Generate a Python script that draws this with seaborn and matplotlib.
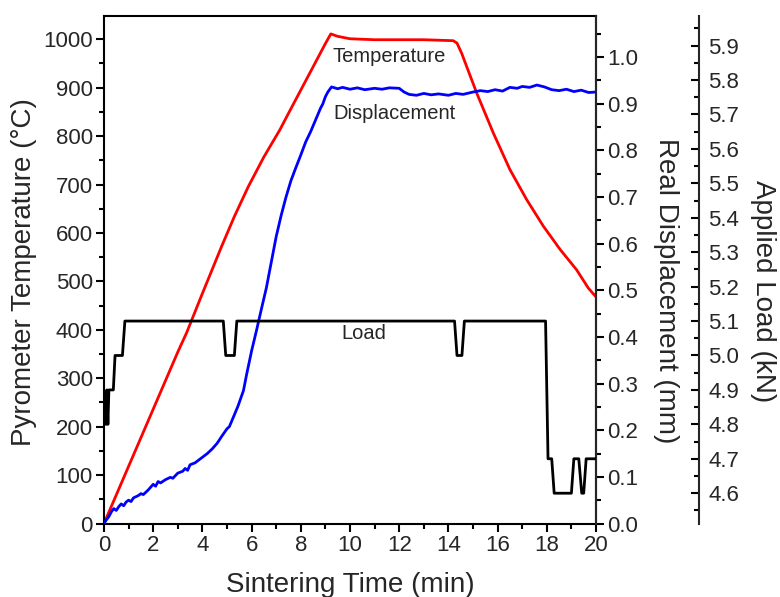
import matplotlib
matplotlib.use("Agg")
import matplotlib.pyplot as plt
from matplotlib.ticker import MultipleLocator, FormatStrFormatter
import seaborn as sns
import pandas as pd

# ---------------- data ----------------
temp_time = [0, 1, 2, 3, 3.36, 4, 4.78, 5.3, 5.87, 6.5, 7.15, 7.5, 8, 8.5, 9, 9.22,
             9.5, 10, 11, 12, 13, 14.2, 14.35, 14.54, 15.15, 15.83, 16.5, 17.18,
             17.86, 18.54, 19.21, 19.69, 20]
temp_c = [0, 118, 236, 354, 394, 475, 572, 634, 696, 757, 813, 847, 895, 943, 991, 1011,
          1006, 1001, 999, 999, 999, 997, 992, 971, 889, 806, 731, 669,
          614, 566, 524, 486, 468]

disp_time = [0, 0.1, 0.2, 0.3, 0.4, 0.5, 0.6, 0.7, 0.8, 0.9, 1.0, 1.1, 1.2, 1.4, 1.5,
             1.6, 1.8, 1.9, 2.0, 2.1, 2.2, 2.3, 2.5, 2.7, 2.8, 3.0, 3.2, 3.3, 3.4, 3.5,
             3.7, 3.9, 4.0, 4.2, 4.4, 4.6, 4.8, 5.0, 5.1, 5.26, 5.45, 5.67, 5.8, 6.0,
             6.2, 6.4, 6.6, 6.8, 7.0, 7.2, 7.4, 7.6, 7.8, 8.0, 8.2, 8.4, 8.6, 8.8, 8.9,
             9.0, 9.1, 9.25, 9.5, 9.7, 10.0, 10.3, 10.6, 11.0, 11.3, 11.6, 12.0, 12.2,
             12.4, 12.7, 13.0, 13.3, 13.6, 14.0, 14.3, 14.6, 15.0, 15.3, 15.6, 15.9,
             16.2, 16.5, 16.8, 17.0, 17.3, 17.6, 17.9, 18.2, 18.5, 18.8, 19.1, 19.4,
             19.7, 20.0]
disp_mm = [0, 0.008, 0.015, 0.025, 0.032, 0.028, 0.036, 0.042, 0.038, 0.046, 0.050,
           0.047, 0.055, 0.060, 0.064, 0.062, 0.072, 0.078, 0.084, 0.080, 0.090,
           0.087, 0.094, 0.099, 0.097, 0.108, 0.112, 0.118, 0.114, 0.126, 0.130,
           0.138, 0.142, 0.150, 0.160, 0.172, 0.188, 0.203, 0.208, 0.228, 0.252,
           0.285, 0.320, 0.370, 0.414, 0.460, 0.505, 0.560, 0.615, 0.660, 0.700,
           0.735, 0.763, 0.790, 0.818, 0.840, 0.865, 0.890, 0.900, 0.915, 0.925,
           0.936, 0.932, 0.935, 0.931, 0.934, 0.930, 0.933, 0.931, 0.934, 0.933,
           0.925, 0.920, 0.918, 0.922, 0.919, 0.921, 0.918, 0.922, 0.920, 0.925,
           0.928, 0.926, 0.930, 0.927, 0.935, 0.933, 0.937, 0.935, 0.940, 0.936,
           0.930, 0.928, 0.931, 0.926, 0.929, 0.924, 0.925]

load_time = [0.0, 0.08, 0.12, 0.16, 0.2, 0.38, 0.45, 0.75, 0.85, 4.85, 4.95, 5.3, 5.4,
             14.25, 14.35, 14.55, 14.65, 17.95, 18.05, 18.2, 18.3, 19.0, 19.1, 19.3,
             19.42, 19.5, 19.6, 20.0]
load_kn = [4.90, 4.80, 4.90, 4.80, 4.90, 4.90, 5.00, 5.00, 5.10, 5.10, 5.00, 5.00, 5.10,
           5.10, 5.00, 5.00, 5.10, 5.10, 4.70, 4.70, 4.60, 4.60, 4.70, 4.70,
           4.60, 4.60, 4.70, 4.70]

series_labels = ["Temperature", "Displacement", "Load"]

# ---------------- style ----------------
sns.set_style("ticks")
plt.rcParams["font.family"] = ["Liberation Sans", "DejaVu Sans"]
plt.rcParams["axes.linewidth"] = 1.5

TICK_FS = 16
LABEL_FS = 20

fig = plt.figure(figsize=(7.8, 5.97), dpi=100)
ax = fig.add_axes([0.1333, 0.1231, 0.6308, 0.8501])
ax2 = ax.twinx()
ax3 = ax.twinx()

df_t = pd.DataFrame({"t": temp_time, "v": temp_c})
df_d = pd.DataFrame({"t": disp_time, "v": disp_mm})
df_l = pd.DataFrame({"t": load_time, "v": load_kn})

sns.lineplot(data=df_t, x="t", y="v", ax=ax, color="#ff0000", linewidth=2.0,
             estimator=None, sort=False)
sns.lineplot(data=df_d, x="t", y="v", ax=ax2, color="#0000ff", linewidth=2.0,
             estimator=None, sort=False)
sns.lineplot(data=df_l, x="t", y="v", ax=ax3, color="black", linewidth=2.0,
             estimator=None, sort=False)

# main axis
ax.set_xlim(0, 20)
ax.set_ylim(0, 1048)
ax.xaxis.set_major_locator(MultipleLocator(2))
ax.xaxis.set_minor_locator(MultipleLocator(1))
ax.yaxis.set_major_locator(MultipleLocator(100))
ax.yaxis.set_minor_locator(MultipleLocator(50))
ax.tick_params(axis="both", which="major", direction="out", length=6, width=1.5,
               labelsize=TICK_FS, pad=2, color="black")
ax.tick_params(axis="both", which="minor", direction="out", length=3.5, width=1.5,
               color="black")
ax.tick_params(axis="x", top=False, which="both")
ax.tick_params(axis="y", right=False, which="both")
for s in ax.spines.values():
    s.set_linewidth(1.5)
    s.set_color("black")
ax.set_ylabel("Pyrometer Temperature (°C)", fontsize=LABEL_FS)
ax.yaxis.set_label_coords(-0.137, 0.495)

# displacement axis
ax2.set_ylim(0, 1.088)
ax2.yaxis.set_major_locator(MultipleLocator(0.1))
ax2.yaxis.set_minor_locator(MultipleLocator(0.05))
ax2.yaxis.set_major_formatter(FormatStrFormatter("%.1f"))
ax2.tick_params(axis="y", which="major", direction="out", length=6, width=1.5,
                labelsize=TICK_FS, pad=2, color="black")
ax2.tick_params(axis="y", which="minor", direction="out", length=3.5, width=1.5,
                color="black")
for name, s in ax2.spines.items():
    s.set_visible(name == "right")
    s.set_linewidth(1.5)
ax2.set_ylabel("Real Displacement (mm)", fontsize=LABEL_FS, rotation=270, va="bottom")
ax2.yaxis.set_label_coords(1.116, 0.458)

# load axis
ax3.spines["right"].set_position(("axes", 1.209))
for name, s in ax3.spines.items():
    s.set_visible(name == "right")
    s.set_linewidth(1.5)
ax3.set_ylim(4.512, 5.986)
ax3.yaxis.set_major_locator(MultipleLocator(0.1))
ax3.yaxis.set_minor_locator(MultipleLocator(0.05))
ax3.yaxis.set_major_formatter(FormatStrFormatter("%.1f"))
ax3.tick_params(axis="y", which="major", direction="in", length=6, width=1.5,
                labelsize=TICK_FS, pad=7, color="black")
ax3.tick_params(axis="y", which="minor", direction="in", length=3.5, width=1.5,
                color="black")
ax3.set_ylabel("Applied Load (kN)", fontsize=LABEL_FS, rotation=270, va="bottom")
ax3.yaxis.set_label_coords(1.313, 0.458)

for a in (ax2, ax3):
    a.set_xlabel("")
ax.set_xlabel("Sintering Time (min)", fontsize=LABEL_FS)
ax.xaxis.set_label_coords(0.5, -0.095)

# annotations
ax.text(9.27, 953, series_labels[0], fontsize=14.5, ha="left", va="baseline")
ax.text(9.31, 835, series_labels[1], fontsize=14.5, ha="left", va="baseline")
ax.text(9.66, 380, series_labels[2], fontsize=14.5, ha="left", va="baseline")

fig.savefig("out.png", dpi=100)
